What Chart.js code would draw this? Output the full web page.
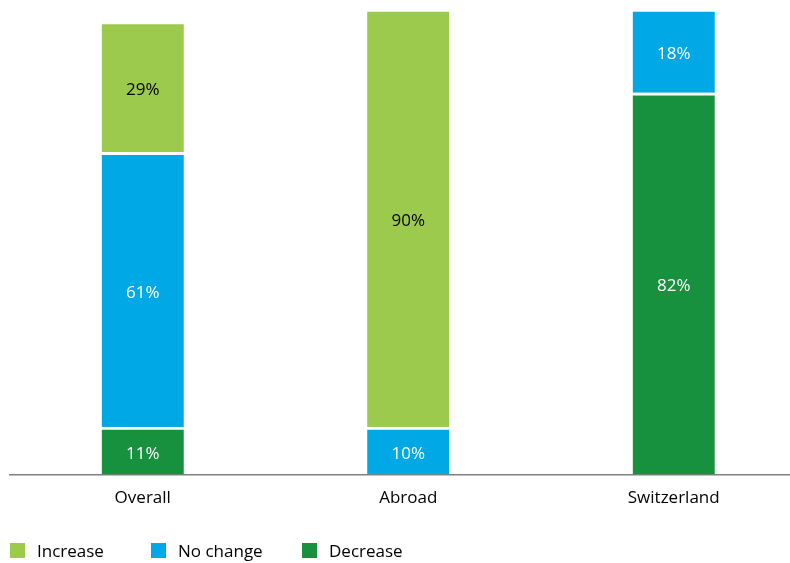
<!DOCTYPE html>
<html>
<head>
<meta charset="utf-8">
<script src="https://cdn.jsdelivr.net/npm/chart.js@4.4.1/dist/chart.umd.min.js"></script>
<style>
    html, body { margin: 0; padding: 0; background: #fff; }
    #wrap { position: relative; width: 790px; height: 563px; }
    #legend {
        position: absolute; left: 10px; top: 539px;
        display: flex; font-family: "Open Sans", sans-serif; font-size: 17px; color: #000;
    }
    .lg-item { display: flex; align-items: center; }
    .lg-item:nth-child(1) { width: 141px; }
    .lg-item:nth-child(2) { width: 151px; }
    .lg-box { width: 15px; height: 15px; margin-right: 12px; }
</style>
</head>
<body>
<div id="wrap">
    <canvas id="chart" width="790" height="563"></canvas>
    <div id="legend"></div>
</div>
<script>
/* ================= DATA ================= */
const categories = ["Overall", "Abroad", "Switzerland"];

// bar heights (percent)
const decreaseValues = [10.2, null, 82.0];
const noChangeValues = [59.0, 10.2, 18.0];
const increaseValues = [28.1, 89.8, null];

// label texts printed inside the bars
const decreaseLabels = ["11%", "", "82%"];
const noChangeLabels = ["61%", "10%", "18%"];
const increaseLabels = ["29%", "90%", ""];

const seriesNames = ["Decrease", "No change", "Increase"];
const legendOrder = ["Increase", "No change", "Decrease"];

/* ================= COLOURS ================= */
const COLORS = {
    "Increase": "#9BCA4C",
    "No change": "#00A9E6",
    "Decrease": "#18913F"
};
const LABEL_COLORS = {
    "Increase": "#000000",
    "No change": "#ffffff",
    "Decrease": "#ffffff"
};

function toPoints(values) {
    return values.map((v, i) => ({ x: i, y: v }));
}

const seriesValues = [decreaseValues, noChangeValues, increaseValues];
const seriesLabels = [decreaseLabels, noChangeLabels, increaseLabels];

/* ================= LABEL PLUGIN ================= */
const barLabels = {
    id: "barLabels",
    afterDatasetsDraw(chart) {
        const ctx = chart.ctx;
        ctx.save();
        ctx.font = '17px "Open Sans", sans-serif';
        ctx.textAlign = "center";
        ctx.textBaseline = "middle";
        chart.data.datasets.forEach((ds, di) => {
            const meta = chart.getDatasetMeta(di);
            meta.data.forEach((bar, i) => {
                const txt = seriesLabels[di][i];
                if (!txt) return;
                ctx.fillStyle = LABEL_COLORS[ds.label];
                ctx.fillText(txt, bar.x, (bar.y + bar.base) / 2 + 3);
            });
        });
        ctx.restore();
    }
};

/* ================= CHART ================= */
new Chart(document.getElementById("chart"), {
    type: "bar",
    data: {
        datasets: seriesNames.map((name, si) => ({
            label: name,
            data: toPoints(seriesValues[si]),
            backgroundColor: COLORS[name],
            borderColor: "#ffffff",
            borderWidth: { top: 3, bottom: 0, left: 0, right: 0 },
            borderSkipped: false,
            barThickness: 82
        }))
    },
    options: {
        responsive: false,
        animation: false,
        layout: { padding: { top: 9, left: 10, right: 0, bottom: 48.5 } },
        plugins: {
            legend: { display: false },
            tooltip: { enabled: false }
        },
        scales: {
            x: {
                type: "linear",
                stacked: true,
                offset: false,
                min: -0.5,
                max: 2.438,
                afterFit(scale) { scale.height = 40; },
                afterBuildTicks(scale) {
                    scale.ticks = categories.map((_, i) => ({ value: i }));
                },
                grid: { display: false, drawTicks: false },
                border: { display: true, color: "#808080", width: 1.5 },
                ticks: {
                    padding: 13,
                    color: "#000",
                    font: { family: "Open Sans", size: 17 },
                    callback: v => categories[v] ?? ""
                }
            },
            y: {
                display: false,
                stacked: true,
                min: 0,
                max: 100
            }
        }
    },
    plugins: [barLabels]
});

/* ================= LEGEND ================= */
const legendEl = document.getElementById("legend");
legendOrder.forEach(name => {
    const item = document.createElement("div");
    item.className = "lg-item";
    item.innerHTML = `<span class="lg-box" style="background:${COLORS[name]}"></span><span>${name}</span>`;
    legendEl.appendChild(item);
});
</script>
</body>
</html>
